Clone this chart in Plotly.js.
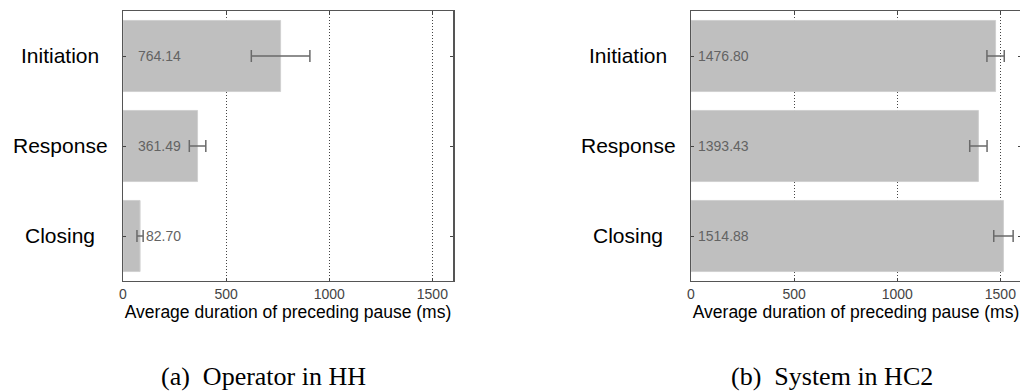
<!DOCTYPE html>
<html>
<head>
<meta charset="utf-8">
<script src="https://cdn.plot.ly/plotly-3.0.1.min.js"></script>
<style>
  html, body { margin: 0; padding: 0; overflow: hidden; background: #fff; }
  #chart { width: 1022px; height: 392px; }
</style>
</head>
<body>
<div id="chart"></div>
<script>
// Dialogue-act categories (top to bottom)
const categories = ['Initiation', 'Response', 'Closing'];

// Average duration of the preceding pause (ms) and error-bar half-widths
const operatorHH = [764.14, 361.49, 82.70];
const operatorHHErr = [142, 40, 15];
const systemHC2 = [1476.80, 1393.43, 1514.88];
const systemHC2Err = [42, 42, 47];

// Panel captions and axis text
const captions = ['(a)\u00a0 Operator in HH', '(b)\u00a0 System in HC2'];
const xTitle = 'Average duration of preceding pause (ms)';
const xTicks = [0, 500, 1000, 1500];

const W = 1022, H = 392;
const SANS = 'Liberation Sans, Arial, sans-serif';
const SERIF = 'Liberation Serif, Times New Roman, serif';

function barTrace(values, errs, xa, ya) {
  return {
    type: 'bar',
    orientation: 'h',
    y: categories,
    x: values,
    xaxis: xa,
    yaxis: ya,
    width: 0.79,
    marker: { color: '#bfbfbf', line: { color: '#d0d0d0', width: 1 } },
    error_x: { type: 'data', array: errs, visible: true, color: '#6a6a6a', thickness: 1.5, width: 6 },
    hoverinfo: 'skip',
    showlegend: false
  };
}

function xAxis(domain, anchor) {
  return {
    domain: domain,
    anchor: anchor,
    range: [0, 1600],
    tickvals: xTicks,
    ticktext: xTicks.map(String),
    ticks: 'inside',
    ticklen: 3,
    tickcolor: '#444',
    showline: true,
    linecolor: '#555',
    linewidth: 1,
    mirror: 'ticks',
    showgrid: true,
    gridcolor: '#444',
    gridwidth: 1,
    griddash: '1px,2px',
    zeroline: false,
    tickfont: { family: SANS, size: 14, color: '#444' },
    title: { text: xTitle, font: { family: SANS, size: 17.5, color: '#000' }, standoff: 4 },
    fixedrange: true
  };
}

function yAxis(anchor) {
  return {
    domain: [(H - 281) / H, (H - 11) / H],
    anchor: anchor,
    type: 'category',
    range: [2.5, -0.5],
    ticks: 'inside',
    ticklen: 3,
    tickcolor: '#444',
    showticklabels: false,
    showline: true,
    linecolor: '#555',
    linewidth: 1.5,
    mirror: 'ticks',
    showgrid: false,
    zeroline: false,
    fixedrange: true
  };
}

const annotations = [];

// Category names, centred to the left of each panel
[[60, 'y'], [628, 'y2']].forEach(([px, ya]) => {
  categories.forEach(c => annotations.push({
    xref: 'paper', yref: ya, x: px / W, y: c,
    xanchor: 'center', yanchor: 'middle', showarrow: false,
    text: c, font: { family: SANS, size: 21, color: '#000' }
  }));
});

// Value labels inside the bars
[[operatorHH, 'x', 'y'], [systemHC2, 'x2', 'y2']].forEach(([vals, xa, ya]) => {
  vals.forEach((v, i) => annotations.push({
    xref: xa, yref: ya, x: 289, y: categories[i],
    xanchor: 'right', yanchor: 'middle', showarrow: false,
    text: v.toFixed(2), font: { family: SANS, size: 14, color: '#636363' }
  }));
});

// Sub-figure captions
[[263, captions[0]], [832, captions[1]]].forEach(([px, t]) => annotations.push({
  xref: 'paper', yref: 'paper', x: px / W, y: (H - 376) / H,
  xanchor: 'center', yanchor: 'middle', showarrow: false,
  text: t, font: { family: SERIF, size: 26, color: '#000' }
}));

const layout = {
  width: W,
  height: H,
  margin: { l: 0, r: 0, t: 0, b: 0, pad: 0 },
  paper_bgcolor: '#fff',
  plot_bgcolor: '#fff',
  bargap: 0.2,
  xaxis: xAxis([123 / W, 453 / W], 'y'),
  yaxis: yAxis('x'),
  xaxis2: xAxis([691 / W, 1021 / W], 'y2'),
  yaxis2: yAxis('x2'),
  annotations: annotations
};

Plotly.newPlot('chart', [
  barTrace(operatorHH, operatorHHErr, 'x', 'y'),
  barTrace(systemHC2, systemHC2Err, 'x2', 'y2')
], layout, { staticPlot: true, displayModeBar: false });
</script>
</body>
</html>
